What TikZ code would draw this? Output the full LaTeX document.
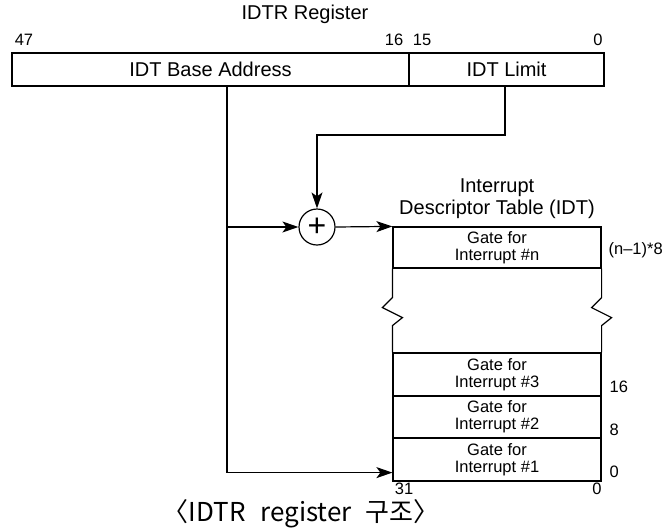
\documentclass[tikz,border=0pt]{standalone}
\usepackage{fontspec}
\setmainfont{Liberation Sans}
\newfontfamily\krfont{Noto Sans CJK KR}
\usetikzlibrary{arrows.meta}

\tikzset{
	field/.style={draw=black, text=black, shape=rectangle, inner sep=0pt, minimum height=33pt, font=\fontsize{20}{22}\selectfont},
	gate/.style={draw=black, text=black, shape=rectangle, inner sep=0pt, minimum width=208pt, align=center, font=\fontsize{16.5}{17}\selectfont},
	bitnum/.style={text=black, inner sep=0pt, font=\fontsize{16.5}{18}\selectfont},
	heading/.style={text=black, inner sep=0pt, align=center, font=\fontsize{20}{22}\selectfont},
	link/.style={draw=black, -{Stealth[length=16pt,width=11pt,inset=4pt]}},
}

\begin{document}
\begin{tikzpicture}[x=1pt, y=-1pt, line width=1.2pt]
	\useasboundingbox (0,0) rectangle (666,531);

	% IDTR register
	\node[heading] (reg_title) at (305,14) {IDTR Register};
	\node[field, minimum width=397pt] (reg_base) at (210.5,69.5) {IDT Base Address};
	\node[field, minimum width=195pt] (reg_limit) at (506.5,69.5) {IDT Limit};

	\node[bitnum] (bit_47) at (24,40) {47};
	\node[bitnum] (bit_16) at (394,40) {16};
	\node[bitnum] (bit_15) at (422,40) {15};
	\node[bitnum] (bit_0) at (598,40) {0};

	% adder
	\node[draw=black, shape=circle, minimum size=36pt, inner sep=0pt, font=\fontsize{32}{32}\selectfont] (sum) at (317,227) {+};

	% IDT
	\node[heading] (idt_title) at (497,199) {Interrupt\\Descriptor Table (IDT)};
	\node[gate, minimum height=41pt] (gate_n) at (497,247.5) {Gate for\\Interrupt \#n};
	\node[gate, minimum height=43pt] (gate_3) at (497,374.5) {Gate for\\Interrupt \#3};
	\node[gate, minimum height=42pt] (gate_2) at (497,417) {Gate for\\Interrupt \#2};
	\node[gate, minimum height=43pt] (gate_1) at (497,459.5) {Gate for\\Interrupt \#1};

	\draw (gate_n.south west) -- ++(0,29) -- ++(-10,10) -- ++(20,10) -- ++(-10,8) -- (gate_3.north west);
	\draw (gate_n.south east) -- ++(0,29) -- ++(-10,10) -- ++(20,10) -- ++(-10,8) -- (gate_3.north east);

	\node[bitnum, anchor=west] (off_n) at (608,250) {(n\textendash1)*8};
	\node[bitnum, anchor=west] (off_3) at (609,387) {16};
	\node[bitnum, anchor=west] (off_2) at (609,430) {8};
	\node[bitnum, anchor=west] (off_1) at (609,472) {0};
	\node[bitnum] (bit_31) at (404,489) {31};
	\node[bitnum] (bit_00) at (597,489) {0};

	% connectors
	\coordinate (tap_base) at (227,86);
	\coordinate (tap_limit) at (505,86);
	\draw[link] (tap_limit) -- ++(0,49) -| (sum.north);
	\draw[link] (tap_base |- sum.west) -- (sum.west);
	\draw[link] (sum.east) -- (gate_n.north west);
	\draw[link] (tap_base) |- ([yshift=9pt]gate_1.south west);

	\node[text=black, inner sep=0pt, anchor=base, font=\krfont\fontsize{26}{28}\selectfont] (caption) at (301,521) {〈IDTR\hspace{9pt} register\hspace{8pt} 구조〉};
\end{tikzpicture}
\end{document}
